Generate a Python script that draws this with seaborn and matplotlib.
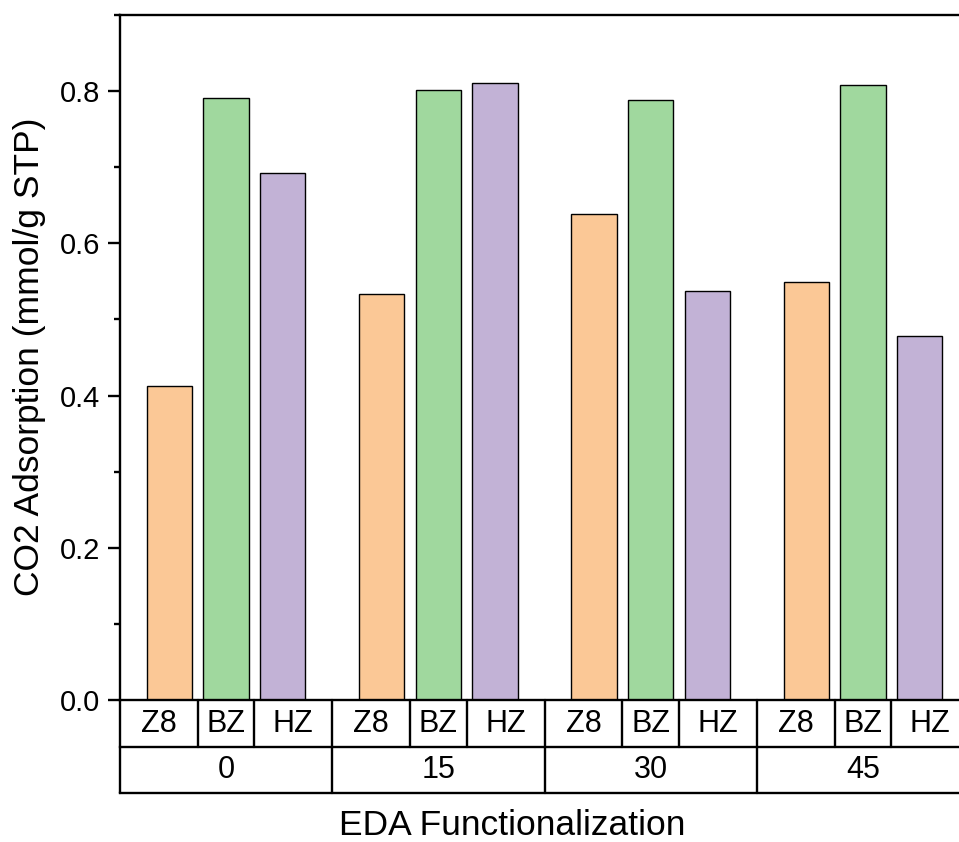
import matplotlib
matplotlib.use("Agg")
import matplotlib.pyplot as plt
import matplotlib.transforms as mtransforms
from matplotlib.ticker import MultipleLocator
import seaborn as sns
import pandas as pd

# ---- data ----
groups = ["0", "15", "30", "45"]
samples = ["Z8", "BZ", "HZ"]
z8_vals = [0.412, 0.533, 0.638, 0.549]
bz_vals = [0.791, 0.801, 0.788, 0.808]
hz_vals = [0.692, 0.811, 0.537, 0.478]
colors = ["#FBC896", "#A0D89E", "#C2B2D6"]
ylabel = "CO2 Adsorption (mmol/g STP)"
xlabel = "EDA Functionalization"

rows = []
for s, vals in zip(samples, [z8_vals, bz_vals, hz_vals]):
    for g, v in zip(groups, vals):
        rows.append({"EDA": g, "Sample": s, "value": v})
df = pd.DataFrame(rows)

sns.set_style("ticks")
plt.rcParams["font.family"] = ["Liberation Sans", "DejaVu Sans"]
plt.rcParams["text.color"] = "black"
plt.rcParams["ytick.color"] = "black"
plt.rcParams["axes.labelcolor"] = "black"

W, H = 959, 842
fig = plt.figure(figsize=(W / 100, H / 100), dpi=100)
ax_left, ax_top, ax_bottom = 120, 15, 700
ax_w = 849
ax = fig.add_axes([ax_left / W, 1 - ax_bottom / H, ax_w / W, (ax_bottom - ax_top) / H])

sns.barplot(data=df, x="EDA", y="value", hue="Sample", order=groups,
            hue_order=samples, palette=colors, width=0.8, gap=0.2,
            edgecolor="black", linewidth=1.0, legend=False, ax=ax,
            errorbar=None, saturation=1)

ax.set_xlim(-0.5, len(groups) - 0.5)
ax.set_ylim(0, 0.9)
ax.yaxis.set_major_locator(MultipleLocator(0.2))
ax.yaxis.set_minor_locator(MultipleLocator(0.1))
ax.set_xticks([])
ax.set_xlabel("")
ax.set_ylabel("")
for side in ["left", "top", "bottom"]:
    ax.spines[side].set_visible(True)
    ax.spines[side].set_linewidth(1.7)
    ax.spines[side].set_color("black")
ax.spines["right"].set_visible(False)
ax.tick_params(axis="y", which="major", direction="out", length=8.5, width=1.7,
               labelsize=21, pad=6, colors="black", labelcolor="black")
ax.tick_params(axis="y", which="minor", direction="out", length=4.3, width=1.7,
               colors="black")
ax.tick_params(axis="x", which="both", length=0)

# ---- category table under the axis ----
ax_h = ax_bottom - ax_top
r1 = -47 / ax_h
r2 = -93 / ax_h
trans = mtransforms.blended_transform_factory(ax.transData, ax.transAxes)
lw = 1.7
n = len(groups)
step = 0.8 / len(samples)
offsets = [(i - (len(samples) - 1) / 2) * step for i in range(len(samples))]
bounds = [-0.5] + [(offsets[k] + offsets[k + 1]) / 2 for k in range(len(samples) - 1)] + [0.5]
for yy in [r1, r2]:
    ax.plot([-0.5, n - 0.5], [yy, yy], transform=trans, color="black", lw=lw,
            clip_on=False, solid_capstyle="projecting")
for gi in range(n + 1):
    ax.plot([gi - 0.5, gi - 0.5], [0, r2], transform=trans, color="black", lw=lw,
            clip_on=False)
for gi in range(n):
    for xx in bounds[1:-1]:
        ax.plot([gi + xx, gi + xx], [0, r1], transform=trans, color="black", lw=lw,
                clip_on=False)
for gi, g in enumerate(groups):
    for k, s in enumerate(samples):
        cx = gi + (bounds[k] + bounds[k + 1]) / 2
        ax.text(cx, r1 / 2, s, transform=trans, ha="center", va="center",
                fontsize=22, clip_on=False, color="black")
    ax.text(gi, (r1 + r2) / 2, g, transform=trans, ha="center", va="center",
            fontsize=22, clip_on=False, color="black")

fig.text(512 / W, 1 - 835 / H, xlabel, ha="center", va="baseline", fontsize=25.5,
         color="black")
fig.text(30 / W, 1 - 357 / H, ylabel, ha="center", va="center", rotation=90,
         fontsize=25.5, color="black")

fig.savefig("out.png", dpi=100, facecolor="white")
